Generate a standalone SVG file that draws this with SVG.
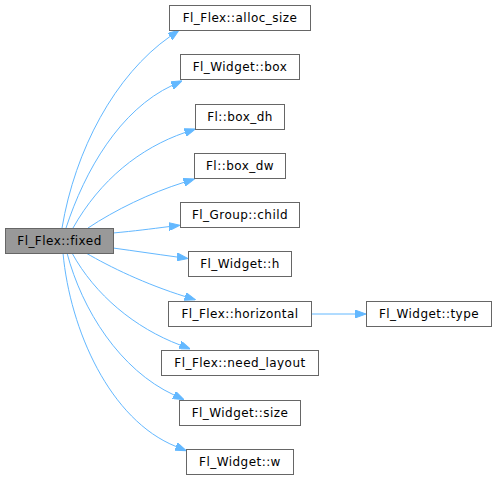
<svg xmlns="http://www.w3.org/2000/svg" width="496" height="480" viewBox="0 0 496 480">
<style>
.n rect{fill:#ffffff;stroke:#666666;stroke-width:1}
.n.main rect{fill:#999999}
.n text{font-family:"DejaVu Sans",sans-serif;font-size:12px;letter-spacing:0.45px;fill:#000000;text-anchor:middle}
.e path{fill:none;stroke:#63b8ff;stroke-width:1;marker-end:url(#ah)}
</style>
<defs>
<marker id="ah" viewBox="0 0 11 8" refX="0" refY="4" markerUnits="userSpaceOnUse" markerWidth="11" markerHeight="8" orient="auto">
<path d="M0,0 L11,4 L0,8 z" fill="#63b8ff" stroke="#63b8ff"/>
</marker>
</defs>
<g id="edges" class="e">
<path d="M62,228 C75,150 115,75 170,36.5"/>
<path d="M66,228 C85,170 120,110 172,85.5"/>
<path d="M73,228 C100,180 140,148 185,132.5"/>
<path d="M88,228 C115,210 150,193 184,182.3"/>
<path d="M113,233 C135,231 150,229 169,226.6"/>
<path d="M113,248 C135,251 155,254 177,257"/>
<path d="M86,253 C110,267 145,284 185,296.5"/>
<path d="M72,253 C95,295 135,328 180,345"/>
<path d="M67,253 C82,310 120,370 174,395"/>
<path d="M63,253 C70,330 110,420 176,446.5"/>
<path d="M311,314 L355,314"/>
</g>
<g id="node_fixed" class="n main"><rect x="5.5" y="228.5" width="108" height="25"/><text x="59.5" y="245">Fl_Flex::fixed</text></g>
<g id="node_alloc_size" class="n"><rect x="169.5" y="5.5" width="141" height="25"/><text x="240" y="22">Fl_Flex::alloc_size</text></g>
<g id="node_box" class="n"><rect x="180.5" y="54.5" width="119" height="25"/><text x="240" y="71">Fl_Widget::box</text></g>
<g id="node_box_dh" class="n"><rect x="195.5" y="104.5" width="89" height="25"/><text x="240" y="121">Fl::box_dh</text></g>
<g id="node_box_dw" class="n"><rect x="194.5" y="153.5" width="91" height="25"/><text x="240" y="170">Fl::box_dw</text></g>
<g id="node_child" class="n"><rect x="180.5" y="202.5" width="119" height="25"/><text x="240" y="219">Fl_Group::child</text></g>
<g id="node_h" class="n"><rect x="188.5" y="251.5" width="103" height="25"/><text x="240" y="268">Fl_Widget::h</text></g>
<g id="node_horizontal" class="n"><rect x="168.5" y="301.5" width="143" height="25"/><text x="240" y="318">Fl_Flex::horizontal</text></g>
<g id="node_need_layout" class="n"><rect x="161.5" y="350.5" width="157" height="25"/><text x="240" y="367">Fl_Flex::need_layout</text></g>
<g id="node_size" class="n"><rect x="179.5" y="400.5" width="121" height="25"/><text x="240" y="417">Fl_Widget::size</text></g>
<g id="node_w" class="n"><rect x="186.5" y="449.5" width="107" height="25"/><text x="240" y="466">Fl_Widget::w</text></g>
<g id="node_type" class="n"><rect x="366.5" y="301.5" width="125" height="25"/><text x="429" y="318">Fl_Widget::type</text></g>
</svg>
